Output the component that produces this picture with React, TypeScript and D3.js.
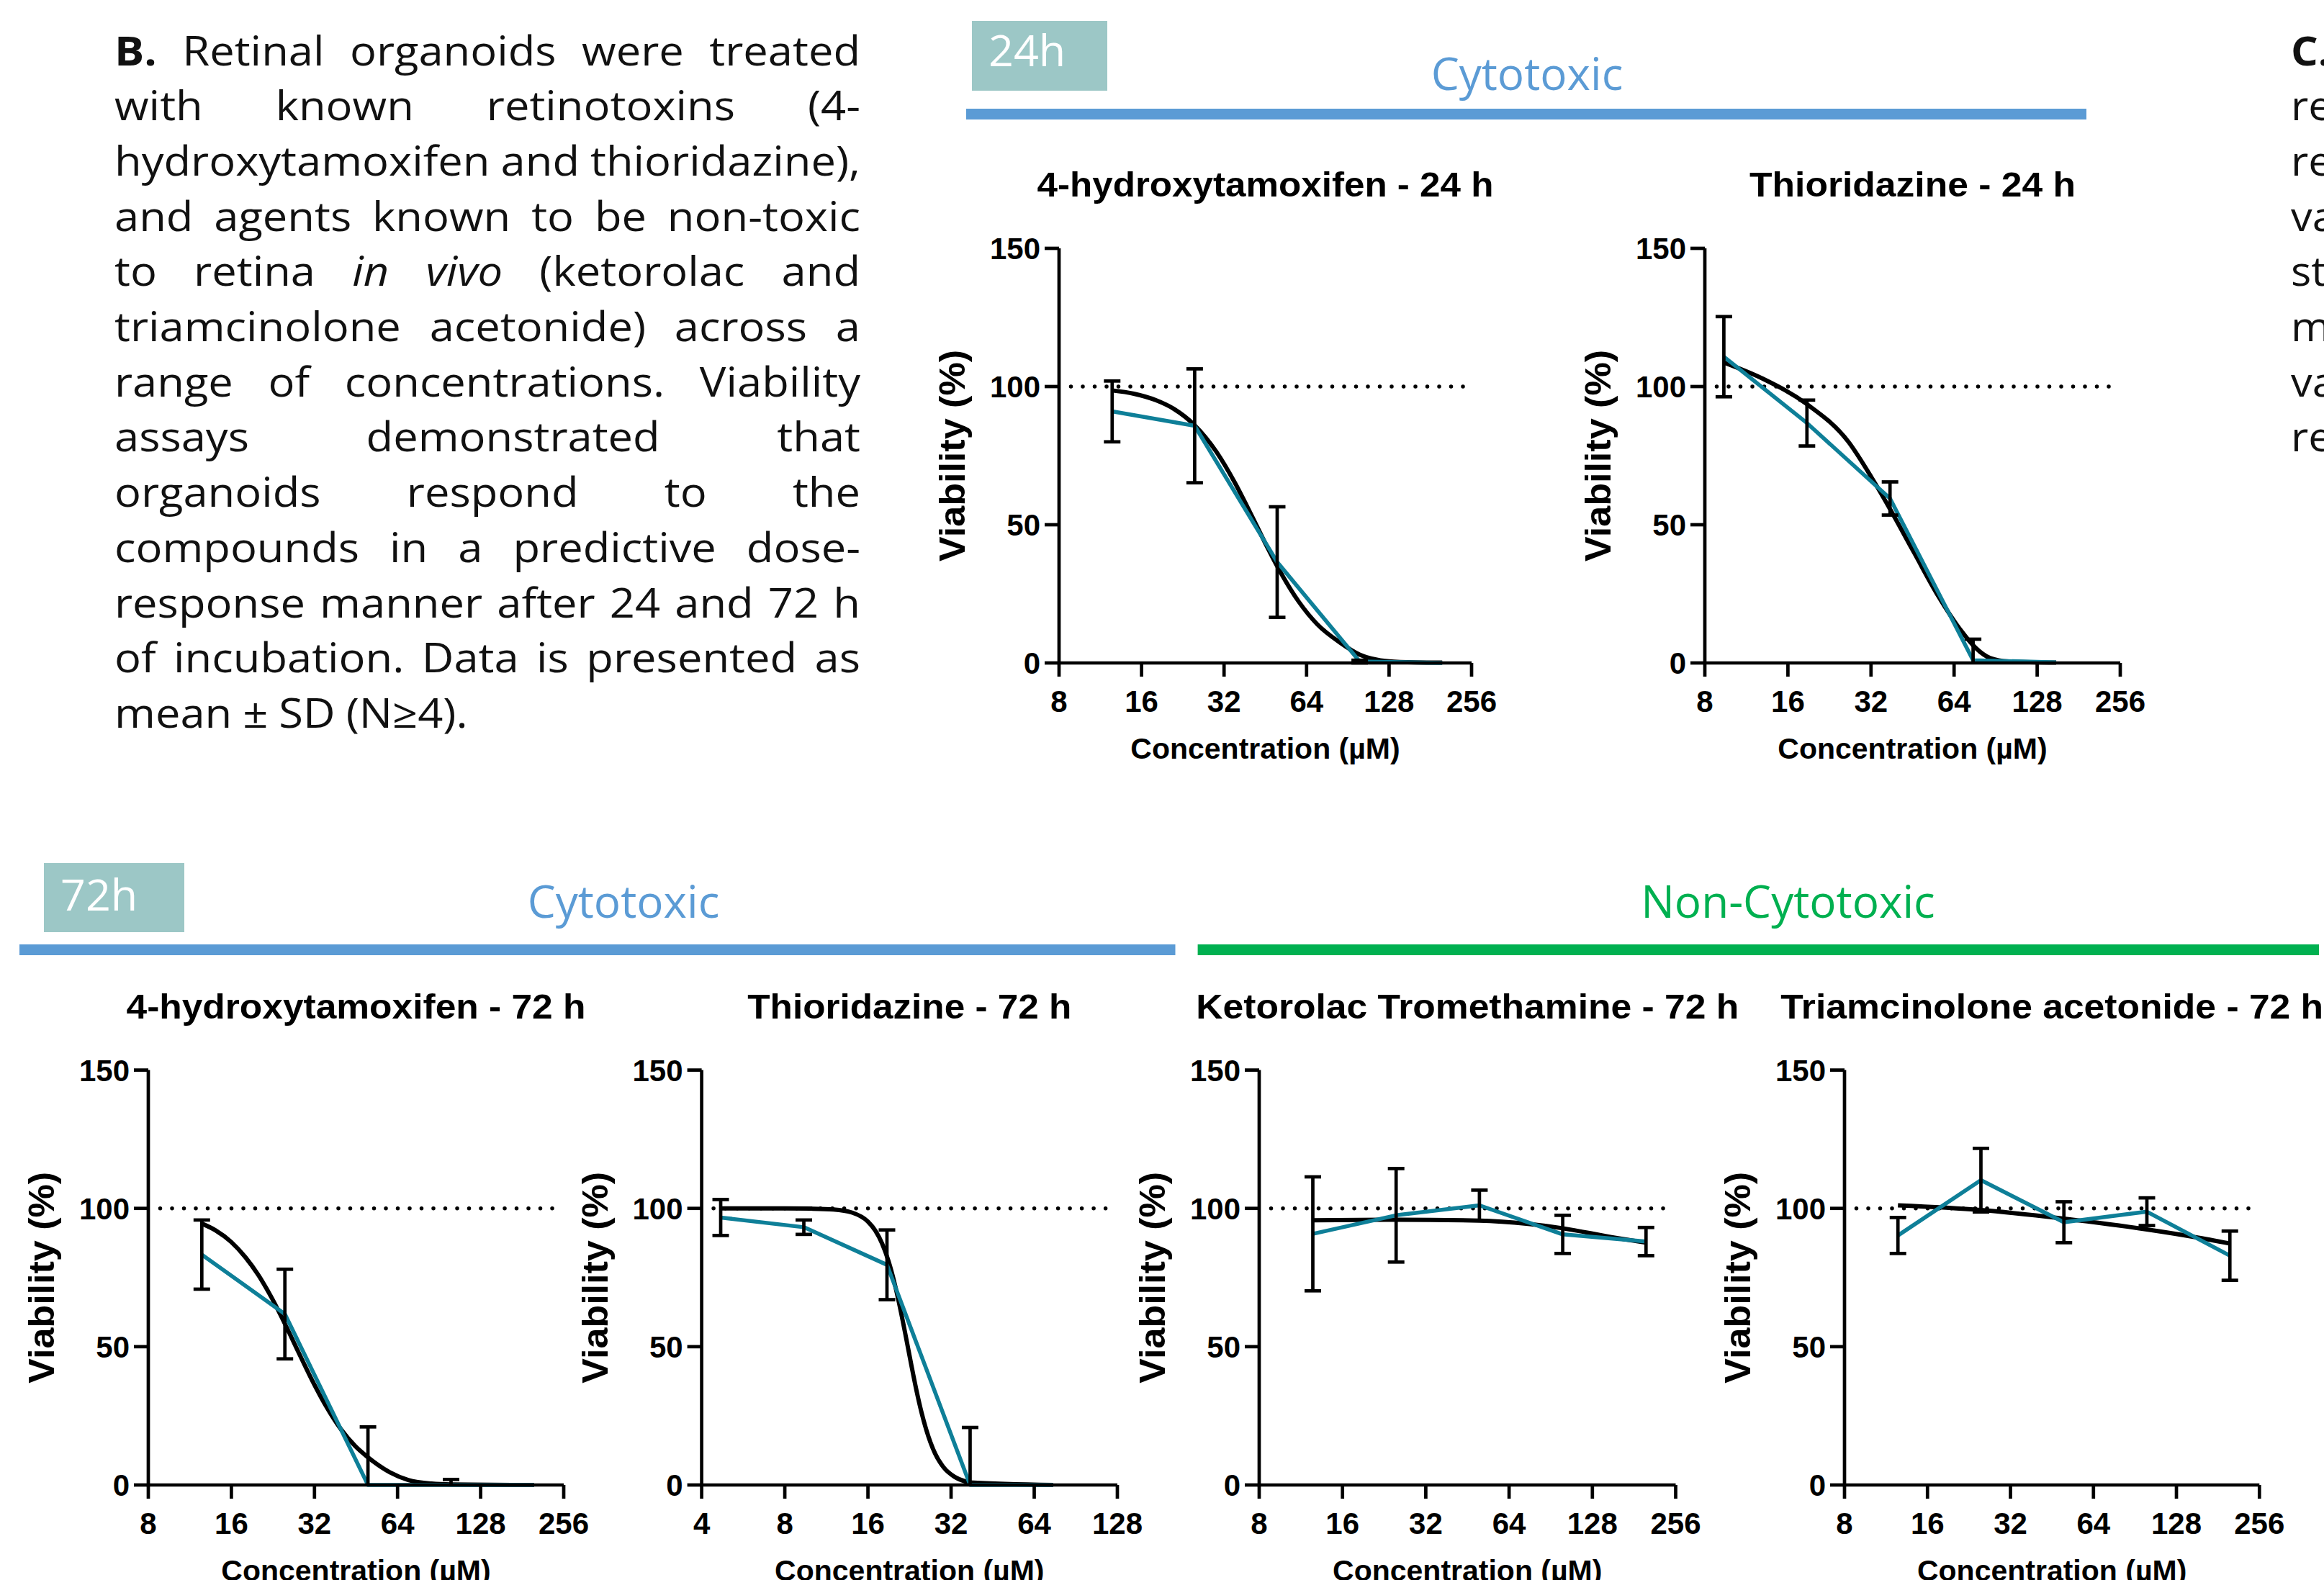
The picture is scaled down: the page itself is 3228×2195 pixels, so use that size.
import React, { useEffect, useRef } from 'react';
import * as d3 from 'd3';

const W = 3228;
const H = 2195;

// ---------------- DATA ----------------
const yTicks = [0, 50, 100, 150];
const xTicks8 = [8, 16, 32, 64, 128, 256];
const xTicks4 = [4, 8, 16, 32, 64, 128];

// 24 h 4-hydroxytamoxifen
const oht24Conc = [12.5, 25, 50, 100, 200];
const oht24Mean = [91.0, 85.8, 36.5, 0.5, 0];
const oht24Sd = [11.0, 20.6, 20.0, 0.5, 0];
const oht24Fit: [number, number][] = [
  [12.5, 98.6], [15, 97.4], [18, 95.1], [21, 91.9], [25, 86.0], [30, 76.4], [35, 65.3],
  [40, 54.1], [45, 43.8], [50, 35.0], [60, 22.1], [70, 14.0], [85, 7.3], [100, 3.0],
  [128, 0.6], [160, 0.2], [200, 0.1],
];

// 24 h Thioridazine
const thio24Conc = [9.375, 18.75, 37.5, 75, 150];
const thio24Mean = [110.8, 86.8, 59.5, 1.0, 0.2];
const thio24Sd = [14.5, 8.3, 6.0, 7.6, 0];
const thio24Fit: [number, number][] = [
  [9.375, 108.7], [13, 102.8], [18.7, 93.7], [26.5, 80.0], [32.2, 67.0], [37.7, 55.3],
  [45.9, 39.8], [56, 24.3], [68.1, 11.5], [76.7, 5.4], [86.3, 1.8], [101, 0.5], [150, 0.1],
];

// 72 h 4-hydroxytamoxifen
const oht72Conc = [12.5, 25, 50, 100, 200];
const oht72Mean = [83.3, 61.8, 0, 0, 0];
const oht72Sd = [12.5, 16.2, 21.0, 2.0, 0];
const oht72Fit: [number, number][] = [
  [12.5, 94.5], [14, 92.1], [16, 87.8], [18, 82.3], [20, 76.0], [22.5, 67.3], [25, 58.3],
  [28, 48.0], [31.5, 37.5], [35, 29.0], [40, 20.0], [45, 14.0], [50, 10.0], [60, 4.6],
  [70, 1.8], [85, 0.5], [100, 0.2], [200, 0],
];

// 72 h Thioridazine
const thio72Conc = [4.6875, 9.375, 18.75, 37.5, 75];
const thio72Mean = [96.7, 93.2, 79.6, 0, 0];
const thio72Sd = [6.5, 2.6, 12.6, 20.8, 0];
const thio72Fit: [number, number][] = [
  [4.6875, 100], [8, 100], [10, 99.9], [12, 99.6], [14, 98.5], [16, 95.2], [17, 92.0],
  [18, 87.3], [19, 80.9], [20, 72.7], [21, 63.2], [22, 53.1], [23, 43.1], [24, 34.0],
  [25, 26.3], [26, 20.1], [28, 11.4], [30, 6.5], [33, 2.9], [36, 1.3], [37.5, 0.9], [75, 0],
];

// 72 h Ketorolac Tromethamine
const ketoConc = [12.5, 25, 50, 100, 200];
const ketoMean = [90.8, 97.5, 101.1, 90.6, 88.0];
const ketoSd = [20.6, 16.9, 5.5, 6.9, 5.1];
const ketoFit: [number, number][] = [
  [12.5, 95.7], [25, 95.9], [50, 95.6], [75, 94.4], [100, 92.8], [150, 89.6], [200, 87.6],
];

// 72 h Triamcinolone acetonide
const triaConc = [12.5, 25, 50, 100, 200];
const triaMean = [90.2, 110.2, 95.0, 98.8, 82.9];
const triaSd = [6.5, 11.5, 7.4, 5.0, 8.9];
const triaFit: [number, number][] = [
  [12.5, 101.1], [25, 99.4], [50, 96.3], [100, 92.4], [150, 89.6], [200, 87.3],
];

const titles = [
  '4-hydroxytamoxifen - 24 h',
  'Thioridazine - 24 h',
  '4-hydroxytamoxifen - 72 h',
  'Thioridazine - 72 h',
  'Ketorolac Tromethamine - 72 h',
  'Triamcinolone acetonide - 72 h',
];

// paragraph text (* = bold, _ = italic)
const paraLines = [
  '*B. Retinal organoids were treated',
  'with known retinotoxins (4-',
  'hydroxytamoxifen and thioridazine),',
  'and agents known to be non-toxic',
  'to retina _in _vivo (ketorolac and',
  'triamcinolone acetonide) across a',
  'range of concentrations. Viability',
  'assays demonstrated that',
  'organoids respond to the',
  'compounds in a predictive dose-',
  'response manner after 24 and 72 h',
  'of incubation. Data is presented as',
  'mean ± SD (N≥4).',
];
const rightLines = ['*C.', 're', 're', 'va', 'st', 'm', 'va', 're'];

// ---------------- STYLE ----------------
const TEAL = '#0E7F98';
const BLUE = '#5B9BD5';
const GREEN = '#00B050';
const BOX = '#9CC7C6';
const ARIAL = 'Liberation Sans, Arial, sans-serif';
const SANS = 'Open Sans, Noto Sans, sans-serif';

type Panel = {
  title: string;
  titleLen: number;
  conc: number[];
  mean: number[];
  sd: number[];
  fit: [number, number][];
  domain: [number, number];
  ticks: number[];
  x0: number;
  x1: number;
  yTop: number;
  yBot: number;
};

const TOP = { yTop: 345, yBot: 921 };
const BOT = { yTop: 1486.6, yBot: 2063 };

const panels: Panel[] = [
  { title: titles[0], titleLen: 634, conc: oht24Conc, mean: oht24Mean, sd: oht24Sd, fit: oht24Fit, domain: [8, 256], ticks: xTicks8, x0: 1471, x1: 2044, ...TOP },
  { title: titles[1], titleLen: 453, conc: thio24Conc, mean: thio24Mean, sd: thio24Sd, fit: thio24Fit, domain: [8, 256], ticks: xTicks8, x0: 2368, x1: 2945, ...TOP },
  { title: titles[2], titleLen: 638, conc: oht72Conc, mean: oht72Mean, sd: oht72Sd, fit: oht72Fit, domain: [8, 256], ticks: xTicks8, x0: 206, x1: 783, ...BOT },
  { title: titles[3], titleLen: 450, conc: thio72Conc, mean: thio72Mean, sd: thio72Sd, fit: thio72Fit, domain: [4, 128], ticks: xTicks4, x0: 974.6, x1: 1552, ...BOT },
  { title: titles[4], titleLen: 754, conc: ketoConc, mean: ketoMean, sd: ketoSd, fit: ketoFit, domain: [8, 256], ticks: xTicks8, x0: 1749, x1: 2327.5, ...BOT },
  { title: titles[5], titleLen: 754, conc: triaConc, mean: triaMean, sd: triaSd, fit: triaFit, domain: [8, 256], ticks: xTicks8, x0: 2562, x1: 3138.3, ...BOT },
];

function ChartPanel({ p }: { p: Panel }) {
  const x = d3.scaleLog().base(2).domain(p.domain).range([p.x0, p.x1]);
  const y = d3.scaleLinear().domain([0, 150]).range([p.yBot, p.yTop]);
  const fitLine = d3
    .line<[number, number]>()
    .x((d) => x(d[0]))
    .y((d) => y(d[1]))
    .curve(d3.curveMonotoneX);
  const dataLine = d3
    .line<number>()
    .x((_, i) => x(p.conc[i]))
    .y((d) => y(d));
  const cx = (p.x0 + p.x1) / 2;
  const cy = (p.yTop + p.yBot) / 2;
  const capW = 11.5;
  const y100 = y(100);
  return (
    <g>
      <text x={cx} y={p.yTop - 72} textAnchor="middle" fontFamily={ARIAL} fontWeight={700} fontSize={49} textLength={p.titleLen} lengthAdjust="spacingAndGlyphs">
        {p.title}
      </text>
      <line x1={p.x0 + 16.5} x2={p.x1 - 4} y1={y100} y2={y100} stroke="#000" strokeWidth={5.5} strokeDasharray="0 16.5" strokeLinecap="round" />
      <path d={fitLine(p.fit) || ''} fill="none" stroke="#000" strokeWidth={6} />
      <path d={dataLine(p.mean) || ''} fill="none" stroke={TEAL} strokeWidth={5.5} strokeLinejoin="round" />
      {p.conc.map((c, i) => {
        if (p.sd[i] <= 0) return null;
        const hi = p.mean[i] + p.sd[i];
        const lo = Math.max(0, p.mean[i] - p.sd[i]);
        const xx = x(c);
        return (
          <g key={i} stroke="#000" strokeWidth={4.7}>
            <line x1={xx} x2={xx} y1={y(hi)} y2={y(lo)} />
            <line x1={xx - capW} x2={xx + capW} y1={y(hi)} y2={y(hi)} />
            {p.mean[i] - p.sd[i] >= 0 && <line x1={xx - capW} x2={xx + capW} y1={y(lo)} y2={y(lo)} />}
          </g>
        );
      })}
      <path d={`M${p.x0},${p.yTop}V${p.yBot}H${p.x1}`} fill="none" stroke="#000" strokeWidth={4.7} strokeLinejoin="miter" />
      {yTicks.map((t) => (
        <g key={'y' + t}>
          <line x1={p.x0 - 20} x2={p.x0} y1={y(t)} y2={y(t)} stroke="#000" strokeWidth={4.7} />
          <text x={p.x0 - 26} y={y(t)} dy="0.36em" textAnchor="end" fontFamily={ARIAL} fontWeight={700} fontSize={42}>
            {t}
          </text>
        </g>
      ))}
      {p.ticks.map((t) => (
        <g key={'x' + t}>
          <line x1={x(t)} x2={x(t)} y1={p.yBot} y2={p.yBot + 19} stroke="#000" strokeWidth={4.7} />
          <text x={x(t)} y={p.yBot + 68} textAnchor="middle" fontFamily={ARIAL} fontWeight={700} fontSize={42}>
            {t}
          </text>
        </g>
      ))}
      <text x={cx} y={p.yBot + 133} textAnchor="middle" fontFamily={ARIAL} fontWeight={700} fontSize={41}>
        Concentration (µM)
      </text>
      <text transform={`translate(${p.x0 - 131},${cy}) rotate(-90)`} textAnchor="middle" fontFamily={ARIAL} fontWeight={700} fontSize={50} textLength={294} lengthAdjust="spacingAndGlyphs">
        Viability (%)
      </text>
    </g>
  );
}

const PARA_X = 159;
const PARA_W = 1036;
const PARA_Y0 = 90.5;
const PARA_LH = 76.7;
const SPACE = 15;

function Paragraph() {
  const ref = useRef<SVGGElement>(null);
  useEffect(() => {
    if (!ref.current) return;
    const g = d3.select(ref.current);
    g.selectAll('*').remove();
    const rows = paraLines.map((line, i) => {
      const yb = PARA_Y0 + i * PARA_LH;
      const words = line.split(' ');
      const nodes = words.map((w) => {
        let t = w;
        let it = false;
        let b = false;
        if (t.startsWith('*')) {
          b = true;
          t = t.slice(1);
        }
        if (t.startsWith('_')) {
          it = true;
          t = t.slice(1);
        }
        return g
          .append('text')
          .attr('y', yb)
          .attr('font-weight', b ? 700 : 400)
          .attr('font-style', it ? 'italic' : 'normal')
          .text(t);
      });
      const raw = nodes.map((n) => (n.node() as SVGTextElement).getComputedTextLength());
      return { nodes, raw };
    });
    // horizontal stretch so that the tightest line (3rd) fills the column with normal spaces
    const tight = rows[2];
    const stretch = (PARA_W - SPACE * (tight.raw.length - 1)) / d3.sum(tight.raw);
    rows.forEach((r, i) => {
      const widths = r.raw.map((w) => w * stretch);
      r.nodes.forEach((n, k) => n.attr('textLength', widths[k]).attr('lengthAdjust', 'spacingAndGlyphs'));
      const total = d3.sum(widths);
      const last = i === rows.length - 1;
      const gap = last || widths.length < 2 ? SPACE : Math.max(SPACE * 0.6, (PARA_W - total) / (widths.length - 1));
      let xx = PARA_X;
      r.nodes.forEach((n, k) => {
        n.attr('x', xx);
        xx += widths[k] + gap;
      });
    });
  }, []);
  return <g ref={ref} fontFamily={SANS} fontSize={56} fill="#111" />;
}

export default function App() {
  useEffect(() => {
    document.body.style.margin = '0';
  }, []);
  return (
    <svg width={W} height={H} viewBox={`0 0 ${W} ${H}`} style={{ display: 'block', position: 'absolute', left: 0, top: 0, background: '#fff' }}>
      <rect x={0} y={0} width={W} height={H} fill="#fff" />
      <Paragraph />
      <g fontFamily={SANS} fontSize={56} fill="#111">
        {rightLines.map((t, i) => (
          <text key={i} transform={`translate(3182,${PARA_Y0 + i * PARA_LH}) scale(1.06,1)`} fontWeight={t.startsWith('*') ? 700 : 400}>
            {t.replace('*', '')}
          </text>
        ))}
      </g>

      <rect x={1350} y={29} width={188} height={97} fill={BOX} />
      <text x={1373} y={92} fontFamily={SANS} fontSize={61} fill="#fff">24h</text>
      <rect x={1342} y={151} width={1556} height={15} fill={BLUE} />
      <text x={2121} y={125} textAnchor="middle" fontFamily={SANS} fontSize={62} fill={BLUE}>Cytotoxic</text>

      <rect x={61} y={1199} width={195} height={96} fill={BOX} />
      <text x={84} y={1265} fontFamily={SANS} fontSize={61} fill="#fff">72h</text>
      <rect x={27} y={1312} width={1605.5} height={15} fill={BLUE} />
      <text x={866} y={1275} textAnchor="middle" fontFamily={SANS} fontSize={62} fill={BLUE}>Cytotoxic</text>
      <rect x={1663.6} y={1312} width={1557.4} height={15} fill={GREEN} />
      <text x={2483.5} y={1275} textAnchor="middle" fontFamily={SANS} fontSize={62} fill={GREEN}>Non-Cytotoxic</text>

      {panels.map((p, i) => (
        <ChartPanel key={i} p={p} />
      ))}
    </svg>
  );
}
